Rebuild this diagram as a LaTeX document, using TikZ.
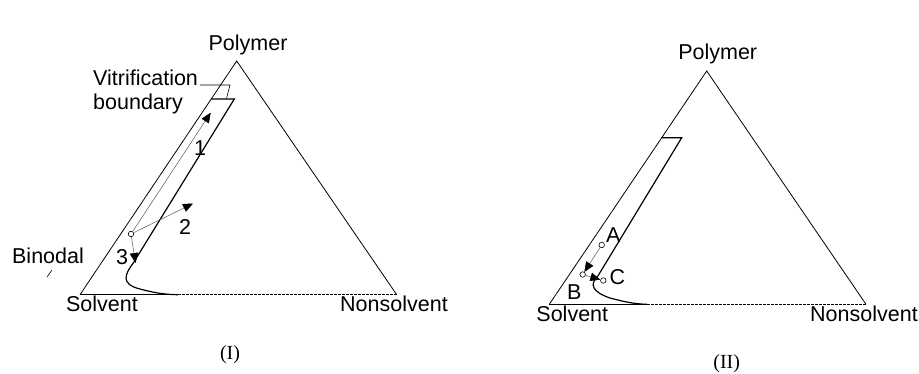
\documentclass[tikz,border=0pt]{standalone}
\usepackage{fontspec}
\setmainfont{Liberation Sans}
\newfontfamily\capfont{Liberation Serif}
\usetikzlibrary{arrows.meta}
\begin{document}
\begin{tikzpicture}[x=1pt, y=-1pt,
  side/.style={line width=0.8pt},
  band/.style={line width=1.2pt},
  flow/.style={line width=0.5pt, black!65, -{Triangle[length=10pt, width=8.5pt, black]}},
  pt/.style={circle, draw, line width=0.6pt, fill=white, minimum size=5.5pt, inner sep=0pt},
  lbl/.style={font=\fontsize{21.5}{24}\selectfont, inner sep=0pt},
  captxt/.style={font=\capfont\fontsize{20}{22}\selectfont, inner sep=0pt}]
  \useasboundingbox (0,0) rectangle (919,373);

  % (I)
  \coordinate (P1) at (236.7,61);
  \coordinate (S1) at (80,294.7);
  \coordinate (N1) at (396.7,294.7);
  \coordinate (T1) at (211.2,99);
  \coordinate (U1) at (234.3,99);
  \coordinate (L1) at (133.3,263);
  \coordinate (J1) at (178,294.7);
  \draw[side] (S1) -- (P1) -- (N1);
  \draw[side] (S1) -- (J1);
  \draw[side, dash pattern=on 3pt off 1pt] (J1) -- (N1);
  \draw[band] (T1) -- (U1) -- (L1)
    .. controls (125,274) and (120,284) .. (140,289)
    .. controls (155,293) and (165,294.5) .. (J1);
  \node[lbl] (poly1) at (248,45) {Polymer};
  \node[lbl] (solv1) at (102,304) {Solvent};
  \node[lbl] (nons1) at (394,304) {Nonsolvent};
  \node[lbl, align=left, anchor=west] (vit) at (93,92) {Vitrification\\boundary};
  \coordinate (v1) at (200,85);
  \coordinate (v2) at (230,85);
  \coordinate (v3) at (226.5,98.5);
  \draw[line width=0.6pt] (v1) -- (v2) -- (v3);
  \node[lbl] (bin) at (48,256) {Binodal};
  \coordinate (b1) at (47,277);
  \coordinate (b2) at (52,270);
  \draw[line width=0.6pt] (b1) -- (b2);
  \node[pt] (o) at (131,234) {};
  \coordinate (e1) at (210.7,112.7);
  \coordinate (e2) at (193,203.5);
  \coordinate (e3) at (135.5,263);
  \draw[flow] (o) -- (e1);
  \draw[flow] (o) -- (e2);
  \draw[flow] (o) -- (e3);
  \node[lbl] (n1) at (200,148) {1};
  \node[lbl] (n2) at (185,227) {2};
  \node[lbl] (n3) at (122,257) {3};
  \node[captxt] (c1) at (230,355) {(I)};

  % (II)
  \coordinate (P2) at (706.7,71);
  \coordinate (S2) at (549.3,304.3);
  \coordinate (N2) at (866,304.3);
  \coordinate (T2) at (661.7,137.7);
  \coordinate (U2) at (681.7,137.7);
  \coordinate (L2) at (596.7,278);
  \coordinate (J2) at (647,304.3);
  \draw[side] (S2) -- (P2) -- (N2);
  \draw[side] (S2) -- (J2);
  \draw[side, dash pattern=on 3pt off 1pt] (J2) -- (N2);
  \draw[band] (T2) -- (U2) -- (L2)
    .. controls (590,284) and (592,292) .. (610,298)
    .. controls (625,302) and (635,304) .. (J2);
  \node[lbl] (poly2) at (717.7,54.3) {Polymer};
  \node[lbl] (solv2) at (572.3,314.3) {Solvent};
  \node[lbl] (nons2) at (864,314.3) {Nonsolvent};
  \node[pt] (A) at (601.7,245) {};
  \node[pt] (B) at (582.7,274.5) {};
  \node[pt] (C) at (603.3,280.5) {};
  \draw[flow] (A) -- (B);
  \draw[flow] (B) -- (C);
  \node[lbl] (la) at (613.3,235) {A};
  \node[lbl] (lb) at (574.3,291.7) {B};
  \node[lbl] (lc) at (617.3,276.7) {C};
  \node[captxt] (c2) at (726.7,363.3) {(II)};
\end{tikzpicture}
\end{document}
